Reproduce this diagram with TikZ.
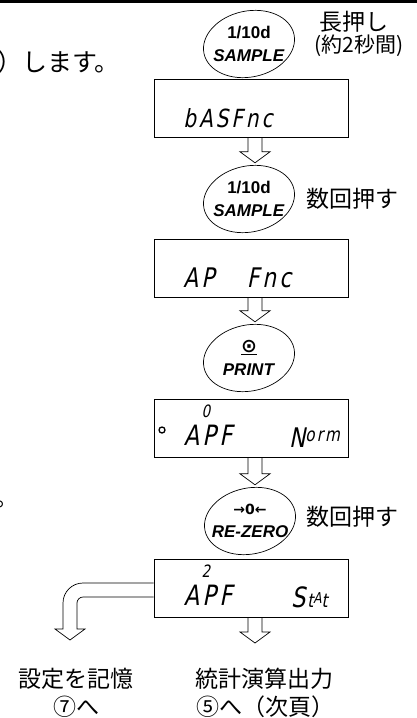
\documentclass[tikz,border=0pt]{standalone}
\usepackage{fontspec}
\usepackage{tikz}
\usetikzlibrary{positioning,calc,shapes.geometric}
\newfontfamily\jp{Noto Sans CJK JP}
\newfontfamily\keyfont{Liberation Sans}
\newfontfamily\symfont{DejaVu Sans}
\newfontfamily\segfont{DejaVu Sans}[FakeSlant=0.2,FakeStretch=0.8,LetterSpace=12]

% hollow down arrow from a panel to a point
\newcommand\hollowdown[2]{%
  \draw[line width=0.7pt] let \p1=($(#1.south)+(4,0)$), \p2=(#2) in
    (\x1-7pt,\y1) -- (\x1-7pt,\y2+13pt) -- (\x1-15pt,\y2+13pt) -- (\x1,\y2+2pt)
    -- (\x1+15pt,\y2+13pt) -- (\x1+7pt,\y2+13pt) -- (\x1+7pt,\y1);}

\tikzset{
  key/.style={ellipse, minimum width=92, minimum height=68, inner sep=0, align=center,
    font=\keyfont\bfseries\fontsize{17}{23}\selectfont},
  panel/.style={draw, line width=0.9pt, minimum width=194, minimum height=58, inner sep=0},
  lbl/.style={font=\jp\fontsize{23}{28}\selectfont, inner sep=0},
  seg/.style={font=\segfont\fontsize{#1}{#1}\selectfont, inner sep=0},
}

\begin{document}
\begin{tikzpicture}[x=1pt,y=-1pt]
\useasboundingbox (0,0) rectangle (417,718);
\fill (0,0) rectangle (417,3);

% keys
\node[key] (k1) at (249,44) {1/10d\\\textit{SAMPLE}};
\node[key] (k2) at (249,199) {1/10d\\\textit{SAMPLE}};
\node[key] (k3) at (249,358) {\underline{\symfont\fontsize{19}{19}\selectfont ⊙}\\\textit{PRINT}};
\node[key] (k4) at (250,521) {{\symfont\fontsize{14}{14}\selectfont →0←}\\\textit{RE-ZERO}};
\foreach \k in {k1,k2,k3,k4}
  \draw[line width=0.7pt, rotate around={12:(\k.center)}] (\k.center) ellipse [x radius=46, y radius=33];

\node[lbl] (l1) at (354,22) {長押し};
\node[lbl, font=\jp\fontsize{21}{24}\selectfont] (l2) at (359,46) {(約2秒間)};
\node[lbl] (l3) at (352,199) {数回押す};
\node[lbl] (l4) at (352,517) {数回押す};
\node[lbl, anchor=west, font=\jp\fontsize{25}{28}\selectfont] (t1) at (-3,62) {）します。};
\node[lbl, anchor=west] (t2) at (-5,504) {。};

% displays
\node[panel] (d1) at (251,108) {};
\node[panel] (d2) at (251,268) {};
\node[panel] (d3) at (251,428) {};
\node[panel] (d4) at (251,588) {};

\node[seg=25] (s1) at (228,118) {bASFnc};
\node[seg=27] (s2) at (199,278) {AP};
\node[seg=27] (s3) at (269,278) {Fnc};
\node[circle, draw, line width=1.3pt, minimum size=6, inner sep=0] (s4) at (162,430) {};
\node[seg=17] (s5) at (206,411) {0};
\node[seg=28] (s6) at (208,435) {APF};
\node[seg=27, anchor=base west] (s7) at (289,447) {N\raisebox{6pt}{\fontsize{19}{19}\selectfont orm}};
\node[seg=17] (s8) at (206,571) {2};
\node[seg=28] (s9) at (208,595) {APF};
\node[seg=28, anchor=base west] (s10) at (291,607) {S\kern2pt\fontsize{19}{19}\selectfont t\raisebox{4pt}{\fontsize{15}{15}\selectfont A}t};

% arrows
\hollowdown{d1}{k2.north}
\hollowdown{d2}{k3.north}
\hollowdown{d3}{k4.north}
\coordinate (e1) at (255,645);
\coordinate (e2) at (70,640);
\hollowdown{d4}{e1}
\draw[line width=0.7pt] let \p1=(d4.west), \p2=(e2) in
  (\x1,\y1+5pt) -- (\x2+13pt,\y1+5pt) arc[start angle=90,end angle=180,radius=20pt]
  -- (\x2-7pt,\y2+11pt) -- (\x2-15pt,\y2+11pt) -- (\x2,\y2) -- (\x2+15pt,\y2+11pt)
  -- (\x2+7pt,\y2+11pt) -- (\x2+7pt,\y1-15pt) arc[start angle=180,end angle=90,radius=6pt]
  -- (\x1,\y1-9pt);

\node[lbl] (b1) at (76,679) {設定を記憶};
\node[lbl] (b2) at (76,707) {⑦へ};
\node[lbl] (b3) at (264,679) {統計演算出力};
\node[lbl] (b4) at (265,707) {⑤へ（次頁）};
\end{tikzpicture}
\end{document}
